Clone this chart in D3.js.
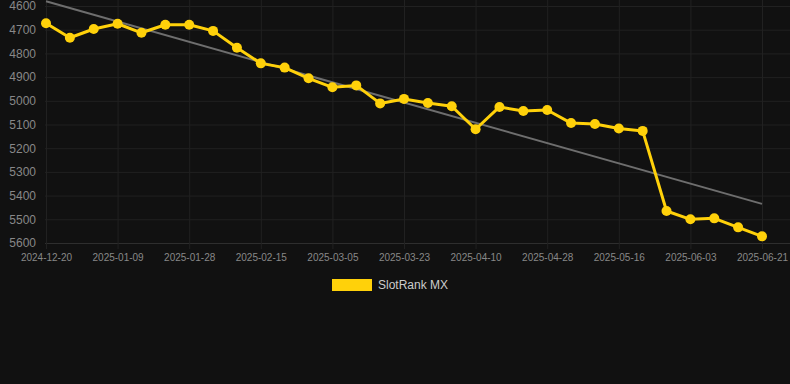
<!DOCTYPE html>
<html>
<head>
<meta charset="utf-8">
<script src="https://cdn.jsdelivr.net/npm/d3@7"></script>
<style>
  html, body { margin: 0; padding: 0; background: #111111; }
  svg { display: block; font-family: "Liberation Sans", Arial, sans-serif; }
</style>
</head>
<body>
<svg id="chart" width="790" height="384"></svg>
<script>
// Dates of each rank sample
var dates = [
    "2024-12-20", "2024-12-26", "2025-01-02", "2025-01-09", "2025-01-15", "2025-01-22",
    "2025-01-28", "2025-02-03", "2025-02-09", "2025-02-15", "2025-02-21", "2025-02-27",
    "2025-03-05", "2025-03-11", "2025-03-17", "2025-03-23", "2025-03-29", "2025-04-04",
    "2025-04-10", "2025-04-16", "2025-04-22", "2025-04-28", "2025-05-04", "2025-05-10",
    "2025-05-16", "2025-05-22", "2025-05-28", "2025-06-03", "2025-06-09", "2025-06-15",
    "2025-06-21"
];

// SlotRank MX rank values
var ranks = [
    4673, 4734, 4697, 4675, 4713, 4679, 4679, 4705, 4776, 4842, 4860,
    4905, 4943, 4935, 5011, 4992, 5009, 5023, 5120, 5026, 5043, 5039,
    5094, 5098, 5117, 5127, 5465, 5500, 5496, 5534, 5572
];

// Trend line values at first and last date
var trendDates = ["2024-12-20", "2025-06-21"];
var trendValues = [4580, 5435];

var xTickLabels = [
    "2024-12-20", "2025-01-09", "2025-01-28", "2025-02-15", "2025-03-05", "2025-03-23",
    "2025-04-10", "2025-04-28", "2025-05-16", "2025-06-03", "2025-06-21"
];
var yTicks = [4600, 4700, 4800, 4900, 5000, 5100, 5200, 5300, 5400, 5500, 5600];

var seriesName = "SlotRank MX";

var svg = d3.select("#chart");

var plotLeft = 46, plotRight = 762, plotTop = 6, plotBottom = 243;

var x = d3.scalePoint().domain(dates).range([plotLeft, plotRight]);
// rank axis is reversed: smaller rank at the top
var y = d3.scaleLinear().domain([4600, 5600]).range([plotTop, plotBottom]);

var gridColor = "#212121";

// Horizontal grid lines + y labels
var yAxis = svg.append("g")
    .attr("transform", "translate(" + plotLeft + ",0)")
    .call(d3.axisLeft(y).tickValues(yTicks).tickFormat(d3.format("d")).tickSize(0).tickPadding(10))
    .call(function (g) { g.select(".domain").remove(); });
yAxis.selectAll(".tick line").remove();
yAxis.selectAll(".tick").append("line")
    .attr("x1", -1).attr("x2", 790 - plotLeft)
    .attr("stroke", function (d) { return d === 5600 ? "#2e2e2e" : gridColor; });
yAxis.selectAll(".tick text")
    .attr("fill", "#888")
    .style("font-size", "12px")
    .style("font-family", "Liberation Sans, Arial, sans-serif");

// Vertical grid lines + x labels
var xAxis = svg.append("g")
    .attr("transform", "translate(0," + plotBottom + ")")
    .call(d3.axisBottom(x).tickValues(xTickLabels).tickSize(6).tickPadding(5))
    .call(function (g) { g.select(".domain").remove(); });
xAxis.selectAll(".tick line").attr("stroke", gridColor);
xAxis.selectAll(".tick").append("line")
    .attr("y1", 0).attr("y2", -plotBottom)
    .attr("stroke", gridColor);
xAxis.selectAll(".tick text")
    .attr("fill", "#888")
    .style("font-size", "10px")
    .style("font-family", "Liberation Sans, Arial, sans-serif");

// Trend line
svg.append("line")
    .attr("x1", x(trendDates[0])).attr("y1", y(trendValues[0]))
    .attr("x2", x(trendDates[1])).attr("y2", y(trendValues[1]))
    .attr("stroke", "#6e6e6e")
    .attr("stroke-width", 2);

// Rank line
var line = d3.line()
    .x(function (d, i) { return x(dates[i]); })
    .y(function (d) { return y(d); });

svg.append("path")
    .datum(ranks)
    .attr("d", line)
    .attr("fill", "none")
    .attr("stroke", "#FFD10A")
    .attr("stroke-width", 3)
    .attr("stroke-linejoin", "round");

svg.selectAll("circle.pt")
    .data(ranks)
    .enter()
    .append("circle")
    .attr("class", "pt")
    .attr("cx", function (d, i) { return x(dates[i]); })
    .attr("cy", function (d) { return y(d); })
    .attr("r", 5)
    .attr("fill", "#FFD10A");

// Legend
var legend = svg.append("g").attr("transform", "translate(332,279)");
legend.append("rect")
    .attr("width", 40).attr("height", 12)
    .attr("fill", "#FFD10A");
legend.append("text")
    .attr("x", 46).attr("y", 10)
    .attr("fill", "#cccccc")
    .style("font-size", "12px")
    .text(seriesName);
</script>
</body>
</html>
